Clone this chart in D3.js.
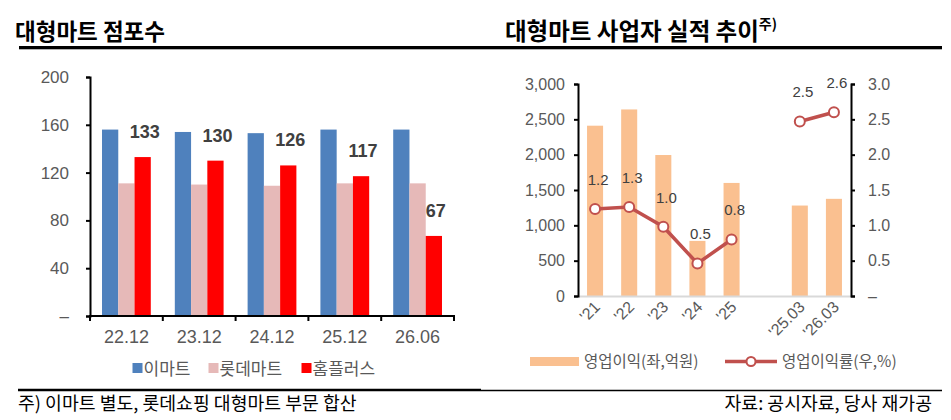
<!DOCTYPE html>
<html><head><meta charset="utf-8">
<script src="https://cdn.jsdelivr.net/npm/d3@7"></script>
<style>
html,body{margin:0;padding:0;background:#fff;}
svg{display:block;font-family:"Liberation Sans","Noto Sans CJK KR",sans-serif;}
.kr{font-family:"Noto Sans CJK KR","Liberation Sans",sans-serif;}
</style></head>
<body>
<svg id="c" width="951" height="420"></svg>
<script>
// ---- Left chart data (대형마트 점포수)
const catsL = ['22.12','23.12','24.12','25.12','26.06'];
const seriesL = ['이마트','롯데마트','홈플러스'];
const emart = [156,154,153,156,156];
const lotte = [111,110,109,111,111];
const homeplus = [133,130,126,117,67];
const ticksL = [0,40,80,120,160,200];

// ---- Right chart data (대형마트 사업자 실적 추이)
const catsR = ["'21","'22","'23","'24","'25","","'25.03","'26.03"];
const opProfit = [2410,2640,1995,780,1600,null,1280,1375];   // 영업이익(좌,억원)
const opMargin = [1.23,1.26,0.98,0.46,0.80,null,2.47,2.60]; // 영업이익률(우,%)
const ticksRL = [0,500,1000,1500,2000,2500,3000];
const ticksRR = [0,0.5,1.0,1.5,2.0,2.5,3.0];

const colorsL = ['#4f81bd','#e6b9b8','#ff0000'];
const barColR = '#fac090';
const lineColR = '#c0504d';
const tickCol = '#595959';

const svg = d3.select('#c');

// ---------- titles ----------
svg.append('text').attr('class','kr').attr('x',15).attr('y',40)
  .attr('font-size',22.5).attr('font-weight',700).attr('fill','#000').text('대형마트 점포수');
svg.append('rect').attr('x',19).attr('y',46).attr('width',461).attr('height',3.3).attr('fill','#000');

const t2 = svg.append('text').attr('class','kr').attr('x',505).attr('y',40)
  .attr('font-size',23.5).attr('font-weight',700).attr('fill','#000');
t2.append('tspan').text('대형마트 사업자 실적 추이');
t2.append('tspan').attr('font-size',14).attr('dy',-11).text('주)');
svg.append('rect').attr('x',480).attr('y',46).attr('width',462).attr('height',3.3).attr('fill','#000');

// ---------- Left chart ----------
const xL = d3.scaleBand().domain(catsL).range([90,454]).paddingInner(0.33).paddingOuter(0.165);
const xLi = d3.scaleBand().domain(seriesL).range([0,xL.bandwidth()]);
const yL = d3.scaleLinear().domain([0,200]).range([316,77]);
const dataL = [emart,lotte,homeplus];

const gL = svg.append('g');
catsL.forEach((c,i)=>{
  seriesL.forEach((s,j)=>{
    const v = dataL[j][i];
    gL.append('rect')
      .attr('x',xL(c)+xLi(s)).attr('width',xLi.bandwidth())
      .attr('y',yL(v)).attr('height',yL(0)-yL(v))
      .attr('fill',colorsL[j]);
  });
  const v = homeplus[i];
  gL.append('text').attr('x',xL(c)+xLi('홈플러스')+xLi.bandwidth()/2+2).attr('y',yL(v)-19)
    .attr('text-anchor','middle').attr('font-size',18).attr('font-weight',700)
    .attr('fill','#404040').text(v);
});

// y axis
const axL = gL.append('g').attr('transform','translate(90,0)')
  .call(d3.axisLeft(yL).tickValues(ticksL).tickSize(4).tickPadding(17)
    .tickFormat(d=>d===0?'–':d));
axL.select('.domain').attr('stroke','#000').attr('stroke-width',2);
axL.selectAll('.tick line').attr('stroke','#000').attr('stroke-width',2);
axL.selectAll('.tick text').attr('font-size',17).attr('fill',tickCol).attr('font-family','Liberation Sans');

// x axis
gL.append('line').attr('x1',89).attr('x2',455).attr('y1',316).attr('y2',316)
  .attr('stroke','#000').attr('stroke-width',2);
d3.range(catsL.length+1).forEach(i=>{
  const x = 90 + i*xL.step();
  gL.append('line').attr('x1',x).attr('x2',x).attr('y1',316).attr('y2',321)
    .attr('stroke','#000').attr('stroke-width',2);
});
catsL.forEach(c=>{
  gL.append('text').attr('x',xL(c)+xL.bandwidth()/2).attr('y',343)
    .attr('text-anchor','middle').attr('font-size',18).attr('fill',tickCol).text(c);
});

// legend
const legXL = [132.5,208.5,301.5];
seriesL.forEach((s,j)=>{
  gL.append('rect').attr('x',legXL[j]).attr('y',363).attr('width',10).attr('height',10).attr('fill',colorsL[j]);
  gL.append('text').attr('class','kr').attr('x',legXL[j]+11).attr('y',374.5)
    .attr('font-size',17).attr('fill',tickCol).text(s);
});

// ---------- Right chart ----------
const xR = d3.scaleBand().domain(catsR).range([578,851]).paddingInner(0.53).paddingOuter(0.265);
const yRL = d3.scaleLinear().domain([0,3000]).range([296,84]);
const yRR = d3.scaleLinear().domain([0,3]).range([296,84]);
const gR = svg.append('g');

catsR.forEach((c,i)=>{
  const v = opProfit[i];
  if(v==null) return;
  gR.append('rect').attr('x',xR(c)).attr('width',xR.bandwidth())
    .attr('y',yRL(v)).attr('height',yRL(0)-yRL(v)).attr('fill',barColR);
});

// x axis line
gR.append('line').attr('x1',578).attr('x2',851).attr('y1',296.5).attr('y2',296.5)
  .attr('stroke','#d9d9d9').attr('stroke-width',2);

// left axis
const axRL = gR.append('g').attr('transform','translate(578,0)')
  .call(d3.axisLeft(yRL).tickValues(ticksRL).tickSize(4).tickPadding(9).tickFormat(d3.format(',')));
axRL.select('.domain').attr('stroke','#000').attr('stroke-width',2);
axRL.selectAll('.tick line').attr('stroke','#000').attr('stroke-width',2);
axRL.selectAll('.tick text').attr('font-size',16).attr('fill',tickCol).attr('font-family','Liberation Sans');

// right axis
const axRR = gR.append('g').attr('transform','translate(851,0)')
  .call(d3.axisRight(yRR).tickValues(ticksRR).tickSize(4).tickPadding(13)
    .tickFormat(d=>d===0?'–':d3.format('.1f')(d)));
axRR.select('.domain').attr('stroke','#000').attr('stroke-width',2);
axRR.selectAll('.tick line').attr('stroke','#000').attr('stroke-width',2);
axRR.selectAll('.tick text').attr('font-size',16).attr('fill',tickCol).attr('font-family','Liberation Sans');

// line
const pts = catsR.map((c,i)=>({c, v:opMargin[i]}));
const line = d3.line().defined(d=>d.v!=null)
  .x(d=>xR(d.c)+xR.bandwidth()/2).y(d=>yRR(d.v));
gR.append('path').datum(pts).attr('d',line).attr('fill','none')
  .attr('stroke',lineColR).attr('stroke-width',3.5);
pts.filter(d=>d.v!=null).forEach(d=>{
  const cx = xR(d.c)+xR.bandwidth()/2, cy = yRR(d.v);
  gR.append('circle').attr('cx',cx).attr('cy',cy).attr('r',5)
    .attr('fill','#fff').attr('stroke',lineColR).attr('stroke-width',2);
  gR.append('text').attr('x',cx+3).attr('y',cy-24).attr('text-anchor','middle')
    .attr('font-size',15).attr('fill','#404040').text(d3.format('.1f')(d.v));
});

// x labels rotated
catsR.forEach(c=>{
  if(!c) return;
  const cx = xR(c)+xR.bandwidth()/2;
  gR.append('text').attr('transform',`translate(${cx+6},${308}) rotate(-45)`)
    .attr('text-anchor','end').attr('font-size',16).attr('fill',tickCol).text(c);
});

// legend
gR.append('rect').attr('x',530).attr('y',357).attr('width',49).attr('height',9).attr('fill',barColR);
gR.append('text').attr('class','kr').attr('x',584).attr('y',367).attr('font-size',15.5)
  .attr('fill',tickCol).text('영업이익(좌,억원)');
gR.append('line').attr('x1',725).attr('x2',777).attr('y1',361.5).attr('y2',361.5)
  .attr('stroke',lineColR).attr('stroke-width',3.5);
gR.append('circle').attr('cx',751).attr('cy',361.5).attr('r',4.5).attr('fill','#fff')
  .attr('stroke',lineColR).attr('stroke-width',2);
gR.append('text').attr('class','kr').attr('x',782).attr('y',367).attr('font-size',15.5)
  .attr('fill',tickCol).text('영업이익률(우,%)');

// ---------- footer ----------
svg.append('line').attr('x1',18).attr('x2',481).attr('y1',390).attr('y2',390)
  .attr('stroke','#000').attr('stroke-width',2.5);
svg.append('line').attr('x1',481).attr('x2',942).attr('y1',390.5).attr('y2',390.5)
  .attr('stroke','#000').attr('stroke-width',1.5);
svg.append('text').attr('class','kr').attr('x',18).attr('y',410).attr('font-size',18.3)
  .attr('fill','#000').text('주) 이마트 별도, 롯데쇼핑 대형마트 부문 합산');
svg.append('text').attr('class','kr').attr('x',932).attr('y',410).attr('font-size',18.3)
  .attr('text-anchor','end').attr('fill','#000').text('자료: 공시자료, 당사 재가공');
</script>
</body></html>
